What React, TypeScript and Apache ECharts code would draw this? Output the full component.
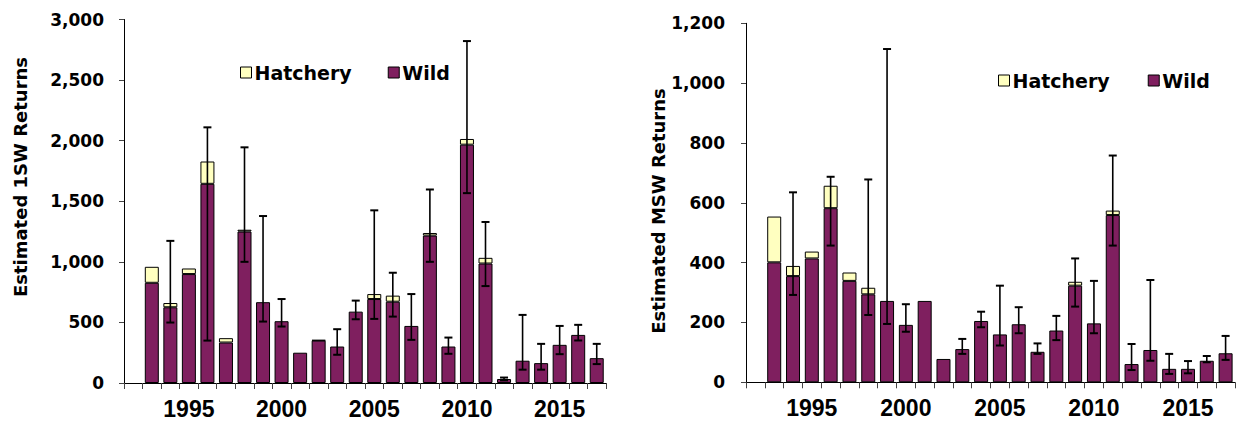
import React, { useEffect, useRef } from "react";
import * as echarts from "echarts";

const years = ["1992","1993","1994","1995","1996","1997","1998","1999","2000","2001","2002","2003","2004","2005","2006","2007","2008","2009","2010","2011","2012","2013","2014","2015","2016","2017"];

const wild1SW = [null, 827, 625, 899, 1644, 334, 1250, 667, 510, 250, 350, 301, 589, 693, 671, 471, 1217, 301, 1967, 986, 33, 184, 164, 315, 397, 205];
const hatch1SW = [null, 132, 35, 46, 184, 36, 15, 0, 0, 0, 5, 0, 0, 41, 50, 0, 21, 0, 47, 47, 0, 0, 0, 0, 0, 0];
const low1SW = [null, null, 499, null, 350, null, 1000, 507, 466, null, null, 233, 526, 529, 548, 356, 1000, 241, 1567, 800, 22, 110, 110, 238, 351, 156];
const high1SW = [null, null, 1173, null, 2110, null, 1945, 1378, 693, null, null, 444, 680, 1425, 910, 734, 1597, 375, 2822, 1329, 45, 562, 323, 471, 480, 323];

const wildMSW = [null, 401, 355, 414, 582, 339, 294, 272, 192, 272, 78, 111, 205, 160, 194, 102, 173, 323, 197, 559, 61, 108, 45, 45, 72, 97];
const hatchMSW = [null, 153, 34, 23, 75, 28, 22, 0, 0, 0, 0, 0, 0, 0, 0, 0, 0, 13, 0, 15, 0, 0, 0, 0, 0, 0];
const lowMSW = [null, null, 292, null, 457, null, 225, 195, 169, null, null, 95, 184, 123, 164, 95, 141, 253, 164, 457, 41, 72, 28, 30, 67, 75];
const highMSW = [null, null, 635, null, 687, null, 678, 1114, 261, null, null, 145, 236, 323, 251, 130, 222, 414, 339, 758, 128, 342, 95, 71, 88, 155];

const yTicks1SW = { min: 0, max: 3000, interval: 500 };
const yTicksMSW = { min: 0, max: 1200, interval: 200 };

const WILD = "#7f1f5f";
const HATCH = "#ffffc0";
const WIDE = '"DejaVu Sans", sans-serif';
const ARIAL = '"Liberation Sans", Arial, sans-serif';

function errData(lo: (number | null)[], hi: (number | null)[]) {
  const out: number[][] = [];
  lo.forEach((l, i) => {
    if (l != null && hi[i] != null) out.push([i, l, hi[i] as number]);
  });
  return out;
}

function renderErr(params: any, api: any) {
  const i = api.value(0);
  const lo = api.coord([i, api.value(1)]);
  const hi = api.coord([i, api.value(2)]);
  const cap = 4;
  const style = { stroke: "#000", lineWidth: 1.6 };
  return {
    type: "group",
    children: [
      { type: "line", shape: { x1: lo[0], y1: lo[1], x2: hi[0], y2: hi[1] }, style },
      { type: "line", shape: { x1: hi[0] - cap, y1: hi[1], x2: hi[0] + cap, y2: hi[1] }, style: { stroke: "#000", lineWidth: 2 } },
      { type: "line", shape: { x1: lo[0] - cap, y1: lo[1], x2: lo[0] + cap, y2: lo[1] }, style: { stroke: "#000", lineWidth: 2 } },
    ],
  };
}

const nz = (arr: (number | null)[]) => arr.map((v) => (v ? v : null));

function xAxis(gridIndex: number) {
  return {
    type: "category",
    gridIndex,
    data: years,
    boundaryGap: true,
    axisLine: { show: true, lineStyle: { color: "#000", width: 1 } },
    axisTick: { show: true, interval: 0, length: 6, alignWithLabel: false, lineStyle: { color: "#444", width: 1 } },
    axisLabel: {
      interval: 0,
      formatter: (v: string) => (Number(v) % 5 === 0 ? v : ""),
      fontFamily: ARIAL,
      fontWeight: "bold",
      fontSize: 23,
      color: "#000",
      margin: 14,
    },
    splitLine: { show: false },
  };
}

function yAxis(gridIndex: number, t: { min: number; max: number; interval: number }, margin: number) {
  return {
    type: "value",
    gridIndex,
    min: t.min,
    max: t.max,
    interval: t.interval,
    axisLine: { show: true, lineStyle: { color: "#000", width: 1 } },
    axisTick: { show: true, length: 5, lineStyle: { color: "#444", width: 1 } },
    axisLabel: {
      formatter: (v: number) => v.toLocaleString("en-US"),
      fontFamily: WIDE,
      fontWeight: "bold",
      fontSize: 17,
      color: "#000",
      margin,
    },
    splitLine: { show: false },
  };
}

function barSeries(name: string, data: (number | null)[], idx: number, color: string, stack: string) {
  return {
    type: "bar",
    name,
    xAxisIndex: idx,
    yAxisIndex: idx,
    stack,
    barWidth: 14,
    data,
    itemStyle: { color, borderColor: "#000", borderWidth: 1 },
    emphasis: { disabled: true },
  };
}

function legend(left: number, top: number, gap: number) {
  return {
    left,
    top,
    orient: "horizontal",
    data: ["Hatchery", "Wild"],
    icon: "rect",
    itemWidth: 11,
    itemHeight: 11,
    itemGap: gap,
    selectedMode: false,
    itemStyle: { borderColor: "#000", borderWidth: 1 },
    textStyle: { fontFamily: WIDE, fontWeight: "bold", fontSize: 19, color: "#000", padding: [0, 0, 0, -2] },
  };
}

export default function App() {
  const ref = useRef<HTMLDivElement>(null);
  useEffect(() => {
    if (!ref.current) return;
    const chart = echarts.init(ref.current, null, { renderer: "svg" });
    chart.setOption({
      animation: false,
      backgroundColor: "#fff",
      grid: [
        { left: 124, top: 19.5, width: 482, height: 363.5 },
        { left: 746, top: 23.3, width: 489, height: 359 },
      ],
      legend: [legend(235, 58, 36), legend(993, 66, 38)],
      xAxis: [xAxis(0), xAxis(1)],
      yAxis: [yAxis(0, yTicks1SW, 20), yAxis(1, yTicksMSW, 21)],
      graphic: [
        {
          type: "text",
          x: 20,
          y: 177,
          rotation: Math.PI / 2,
          style: { text: "Estimated 1SW Returns", font: `bold 18px ${WIDE}`, fill: "#000", align: "center", verticalAlign: "middle" },
        },
        {
          type: "text",
          x: 658,
          y: 211,
          rotation: Math.PI / 2,
          style: { text: "Estimated MSW Returns", font: `bold 18px ${WIDE}`, fill: "#000", align: "center", verticalAlign: "middle" },
        },
      ],
      series: [
        barSeries("Wild", wild1SW, 0, WILD, "L"),
        barSeries("Hatchery", nz(hatch1SW), 0, HATCH, "L"),
        {
          type: "custom",
          name: "err1",
          xAxisIndex: 0,
          yAxisIndex: 0,
          renderItem: renderErr,
          data: errData(low1SW, high1SW),
          encode: { x: 0, y: [1, 2] },
          z: 10,
        },
        barSeries("Wild", wildMSW, 1, WILD, "R"),
        barSeries("Hatchery", nz(hatchMSW), 1, HATCH, "R"),
        {
          type: "custom",
          name: "err2",
          xAxisIndex: 1,
          yAxisIndex: 1,
          renderItem: renderErr,
          data: errData(lowMSW, highMSW),
          encode: { x: 0, y: [1, 2] },
          z: 10,
        },
      ],
    });
    return () => chart.dispose();
  }, []);
  return (
    <div
      ref={ref}
      style={{ position: "fixed", left: 0, top: 0, width: 1238, height: 427, background: "#fff" }}
    />
  );
}
